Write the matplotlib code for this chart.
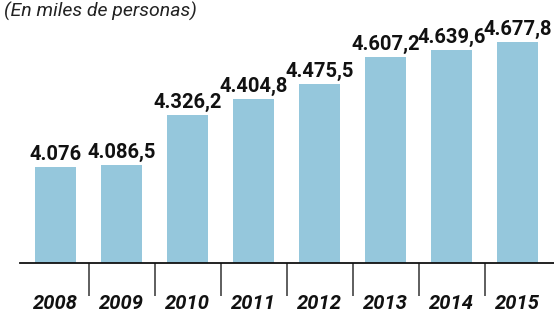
import matplotlib
matplotlib.use("Agg")
import matplotlib.pyplot as plt

years = ["2008", "2009", "2010", "2011", "2012", "2013", "2014", "2015"]
values = [4076, 4086.5, 4326.2, 4404.8, 4475.5, 4607.2, 4639.6, 4677.8]
labels = ["4.076", "4.086,5", "4.326,2", "4.404,8", "4.475,5", "4.607,2", "4.639,6", "4.677,8"]

fam = ["Roboto", "DejaVu Sans"]

fig = plt.figure(figsize=(5.54, 3.13), dpi=100)
ax = fig.add_axes([20 / 554, 50 / 313, 534 / 554, 263 / 313])

x = list(range(len(years)))
ax.bar(x, values, width=0.62, color="#95c7dc")

ax.set_xlim(-0.538, 7.553)
ax.set_ylim(3614, 4880)

for xi, v, lab in zip(x, values, labels):
    ax.annotate(lab, (xi, v), xytext=(0, 2), textcoords="offset points",
                ha="center", va="bottom", fontsize=14.5, fontweight="bold",
                family=fam, color="#111111")

for sp in ["top", "right", "left"]:
    ax.spines[sp].set_visible(False)
ax.spines["bottom"].set_linewidth(1.3)
ax.spines["bottom"].set_color("#111111")

ax.set_yticks([])
ax.set_xticks([i + 0.5 for i in range(len(years) - 1)])
ax.set_xticklabels([])
ax.tick_params(axis="x", length=24, width=1.1, color="#333333")

for xi, yr in zip(x, years):
    ax.text(xi, -0.153, yr, transform=ax.get_xaxis_transform(), ha="center",
            va="center", fontsize=14.5, fontweight="bold", style="italic",
            family=fam, color="#111111")

fig.text(4 / 554, 1 - 11 / 313, "(En miles de personas)", ha="left", va="center",
         fontsize=14, style="italic", family=fam, color="#222222")

fig.savefig("out.png", dpi=100)
